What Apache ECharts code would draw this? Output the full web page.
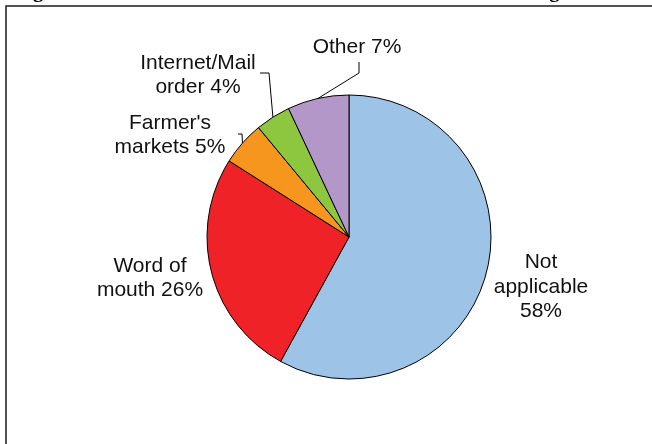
<!DOCTYPE html>
<html>
<head>
<meta charset="utf-8">
<script src="https://cdn.jsdelivr.net/npm/echarts@6/dist/echarts.min.js"></script>
<style>
  html, body { margin: 0; padding: 0; background: #fff; }
  #chart { width: 652px; height: 444px; }
</style>
</head>
<body>
<div id="chart"></div>
<script>
// Sales avenues, share of respondents (%)
const categories = ["Not applicable", "Word of mouth", "Farmer's markets", "Internet/Mail order", "Other"];
const shares = [58, 26, 5, 4, 7];
// How each category name is broken over lines in its label
const labelNames = ["Not\napplicable", "Word of\nmouth", "Farmer's\nmarkets", "Internet/Mail\norder", "Other"];
const valueSeparators = ["\n", " ", " ", " ", " "];
const sliceColors = ["#9dc3e6", "#ee2227", "#f7961f", "#8dc63f", "#b497c9"];

// Label placement (text centre) and leader-line elbows, in pixels
const labelCenters = [[541, 287], [150, 278], [170, 135], [198, 75], [357, 47]];
const leaderPaths = [null, null, [[242, 134], [238, 134]], [[269, 73], [260, 73]], [[359, 73], [359, 62]]];

const PIE_CENTER = [349, 237];
const PIE_RADIUS = 142;

const chart = echarts.init(document.getElementById('chart'), null, { renderer: 'canvas' });

const data = categories.map((name, i) => ({
  name: name,
  value: shares[i],
  itemStyle: { color: sliceColors[i] },
  labelLine: { show: !!leaderPaths[i] }
}));

// Point on the rim at the middle of slice i (clockwise from 12 o'clock)
function rimPoint(i) {
  const total = shares.reduce((a, b) => a + b, 0);
  let before = 0;
  for (let k = 0; k < i; k++) before += shares[k];
  const a = (before + shares[i] / 2) / total * Math.PI * 2;
  return [PIE_CENTER[0] + PIE_RADIUS * Math.sin(a), PIE_CENTER[1] - PIE_RADIUS * Math.cos(a)];
}

chart.setOption({
  backgroundColor: '#ffffff',
  animation: false,
  graphic: [
    {
      type: 'rect',
      shape: { x: 6, y: 6, width: 720, height: 520 },
      style: { fill: 'none', stroke: '#1a1a1a', lineWidth: 1.5 },
      silent: true
    },
    {
      type: 'text',
      left: 14.7,
      top: -19,
      style: {
        text: 'Figure 11: Methods Used to Advertise Direct Farm Marketing',
        font: 'bold 20.6px "Liberation Serif", "Times New Roman", serif',
        fill: '#000'
      },
      silent: true
    }
  ],
  series: [{
    type: 'pie',
    center: PIE_CENTER,
    radius: PIE_RADIUS,
    startAngle: 90,
    clockwise: true,
    avoidLabelOverlap: false,
    data: data,
    itemStyle: { borderColor: '#000', borderWidth: 1 },
    emphasis: { disabled: true },
    label: {
      show: true,
      position: 'outside',
      formatter: p => labelNames[p.dataIndex] + valueSeparators[p.dataIndex] + p.value + '%',
      fontFamily: '"Liberation Sans", Arial, sans-serif',
      fontSize: 21,
      lineHeight: 24.5,
      color: '#111',
      align: 'center'
    },
    labelLine: {
      length: 10,
      length2: 5,
      smooth: false,
      lineStyle: { color: '#000', width: 1 }
    },
    labelLayout: function (params) {
      const i = params.dataIndex;
      const c = labelCenters[i];
      const out = { x: c[0], y: c[1], align: 'center', verticalAlign: 'middle' };
      if (leaderPaths[i]) {
        const start = (params.labelLinePoints && params.labelLinePoints[0]) || rimPoint(i);
        out.labelLinePoints = [start].concat(leaderPaths[i]);
      }
      return out;
    }
  }]
});
</script>
</body>
</html>
